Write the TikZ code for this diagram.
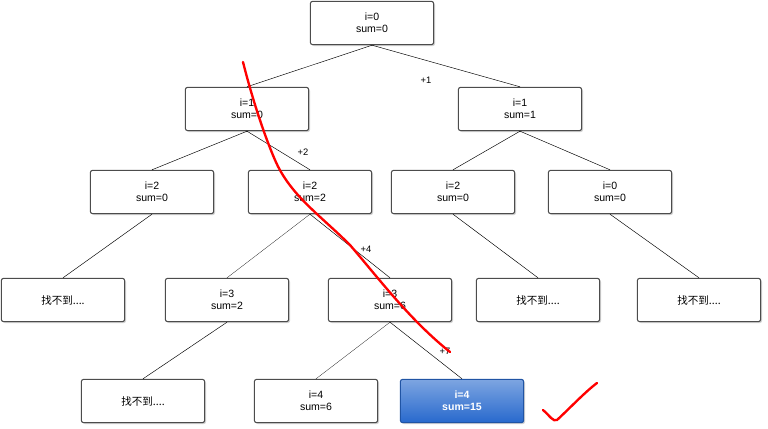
\documentclass[tikz,border=0pt]{standalone}
\usepackage{fontspec}
\setmainfont{Liberation Sans}
\newfontfamily\cjk{Noto Sans CJK SC}
\usetikzlibrary{shadows}
\definecolor{foundtop}{RGB}{125,165,225}
\definecolor{foundbot}{RGB}{40,105,205}
\begin{document}
\begin{tikzpicture}[x=0.03cm,y=-0.03cm,font=\fontsize{9}{10.5}\selectfont]
  \tikzset{state/.style={draw=black!70, line width=0.9pt, rounded corners=2pt, fill=white,
      minimum width=3.7cm, minimum height=1.3cm, align=center,
      drop shadow={shadow xshift=1.2pt, shadow yshift=-1.2pt, fill=black!35}}}
  \tikzset{found/.style={state, draw=foundbot!80!black, text=white, font=\fontsize{9}{10.5}\selectfont\bfseries,
      top color=foundtop, bottom color=foundbot}}
  \tikzset{edge/.style={-, black}}
  \tikzset{thinedge/.style={-, black, very thin}}
  \tikzset{step label/.style={font=\fontsize{8}{9}\selectfont}}
  \useasboundingbox (0,0) rectangle (768,429);

  \node[state] (n0) at (372,23) {i=0\\sum=0};
  \node[state] (n1) at (247,109) {i=1\\sum=0};
  \node[state] (n2) at (520,109) {i=1\\sum=1};
  \node[state] (n3) at (152,192) {i=2\\sum=0};
  \node[state] (n4) at (310,192) {i=2\\sum=2};
  \node[state] (n5) at (453,192) {i=2\\sum=0};
  \node[state] (n6) at (610,192) {i=0\\sum=0};
  \node[state] (n7) at (63,300) {\cjk 找不到....};
  \node[state] (n8) at (227,300) {i=3\\sum=2};
  \node[state] (n9) at (390,300) {i=3\\sum=6};
  \node[state] (n10) at (538,300) {\cjk 找不到....};
  \node[state] (n11) at (699,300) {\cjk 找不到....};
  \node[state] (n12) at (143,401) {\cjk 找不到....};
  \node[state] (n13) at (316,401) {i=4\\sum=6};
  \node[found] (n14) at (462,401) {i=4\\sum=15};

  \draw[edge] (n0.south) -- (n1.north);
  \draw[edge] (n0.south) -- (n2.north);
  \draw[edge] (n1.south) -- (n3.north);
  \draw[edge] (n1.south) -- (n4.north);
  \draw[edge] (n2.south) -- (n5.north);
  \draw[edge] (n2.south) -- (n6.north);
  \draw[edge] (n3.south) -- (n7.north);
  \draw[thinedge] (n4.south) -- (n8.north);
  \draw[edge] (n4.south) -- (n9.north);
  \draw[edge] (n5.south) -- (n10.north);
  \draw[edge] (n6.south) -- (n11.north);
  \draw[edge] (n8.south) -- (n12.north);
  \draw[thinedge] (n9.south) -- (n13.north);
  \draw[edge] (n9.south) -- (n14.north);

  \node[step label] (p1) at (426,80) {+1};
  \node[step label] (p2) at (303,152) {+2};
  \node[step label] (p4) at (366,249) {+4};
  \node[step label] (p7) at (445,351) {+7};

  % hand-drawn marks
  \draw[red, line width=2pt, line cap=round] (243,62) .. controls (250,90) and (262,130) .. (275,160)
    .. controls (290,195) and (320,215) .. (350,245)
    .. controls (380,280) and (410,320) .. (450,352);
  \draw[red, line width=2pt, line cap=round] (543,410) .. controls (550,416) and (553,422) .. (557,420)
    .. controls (570,408) and (585,392) .. (597,383);
\end{tikzpicture}
\end{document}
